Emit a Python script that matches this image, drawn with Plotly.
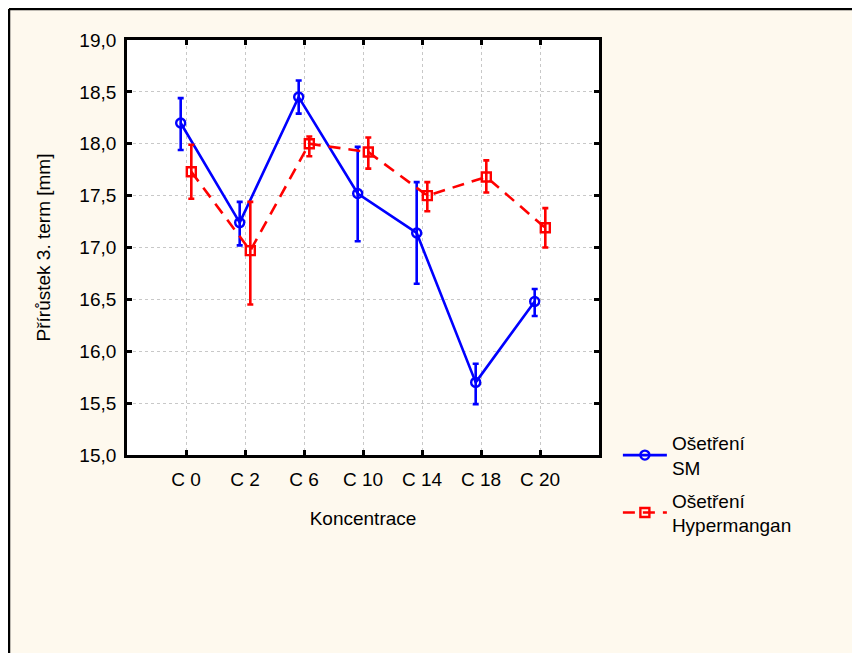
import plotly.graph_objects as go

categories = ["C 0", "C 2", "C 6", "C 10", "C 14", "C 18", "C 20"]
sm_mean = [18.20, 17.24, 18.45, 17.52, 17.14, 15.70, 16.48]
sm_upper = [18.44, 17.44, 18.61, 17.97, 17.63, 15.88, 16.60]
sm_lower = [17.94, 17.02, 18.29, 17.06, 16.65, 15.49, 16.34]
hm_mean = [17.73, 16.97, 18.00, 17.92, 17.50, 17.68, 17.19]
hm_upper = [17.99, 17.44, 18.07, 18.06, 17.63, 17.84, 17.38]
hm_lower = [17.47, 16.45, 17.88, 17.76, 17.35, 17.53, 17.00]

idx = list(range(len(categories)))
off = 0.09
x_sm = [i - off for i in idx]
x_hm = [i + off for i in idx]

fig = go.Figure()
fig.add_trace(go.Scatter(
    x=x_sm, y=sm_mean, mode="lines+markers", name="Ošetření<br>SM",
    legendgroup="sm",
    line=dict(color="#0000FF", width=2.6),
    marker=dict(symbol="circle-open", size=9, color="#0000FF", line=dict(width=2.4)),
    error_y=dict(type="data", symmetric=False,
                 array=[u - m for u, m in zip(sm_upper, sm_mean)],
                 arrayminus=[m - l for m, l in zip(sm_mean, sm_lower)],
                 color="#0000FF", thickness=2.6, width=3),
))
fig.add_trace(go.Scatter(
    x=x_hm, y=hm_mean, mode="lines+markers", name="Ošetření<br>Hypermangan",
    legendgroup="hm",
    line=dict(color="#FF0000", width=2.6, dash="12px,8px"),
    marker=dict(symbol="square-open", size=9, color="#FF0000", line=dict(width=2.4)),
    error_y=dict(type="data", symmetric=False,
                 array=[u - m for u, m in zip(hm_upper, hm_mean)],
                 arrayminus=[m - l for m, l in zip(hm_mean, hm_lower)],
                 color="#FF0000", thickness=2.6, width=3),
))

font = "Liberation Sans, Arial, sans-serif"
L, T, PW, PH = 119, 32, 472, 415
fig.update_layout(
    width=860, height=653,
    margin=dict(l=L, r=860 - L - PW, t=T, b=653 - T - PH),
    paper_bgcolor="#FEF9EE",
    plot_bgcolor="white",
    separators=", ",
    font=dict(family=font, size=19, color="black"),
    showlegend=True,
    legend=dict(x=1.04, y=0.075, xanchor="left", yanchor="top",
                bgcolor="rgba(0,0,0,0)", font=dict(size=19),
                traceorder="grouped", tracegroupgap=5, itemwidth=44),
    shapes=[
        dict(type="line", xref="paper", yref="paper",
             x0=(1 - L) / PW, x1=(1 - L) / PW,
             y0=(T + PH - 700) / PH, y1=(T + PH - 1) / PH,
             line=dict(color="black", width=2.5)),
        dict(type="line", xref="paper", yref="paper",
             x0=(1 - L) / PW, x1=(900 - L) / PW,
             y0=(T + PH - 1) / PH, y1=(T + PH - 1) / PH,
             line=dict(color="black", width=2.5)),
    ],
)
fig.update_xaxes(
    range=[-1, 7], tickmode="array", tickvals=idx, ticktext=categories,
    showline=True, linecolor="black", linewidth=2.8, mirror="ticks",
    ticks="inside", ticklen=5, tickwidth=2.8, tickcolor="black",
    showgrid=True, gridcolor="#C8C8C8", griddash="3px,3px", gridwidth=1,
    zeroline=False,
    title=dict(text="Koncentrace", font=dict(size=19), standoff=23),
    tickfont=dict(size=19), ticklabelstandoff=5,
)
fig.update_yaxes(
    range=[15, 19], tickmode="array", tickvals=[15, 15.5, 16, 16.5, 17, 17.5, 18, 18.5, 19],
    tickformat=".1f",
    showline=True, linecolor="black", linewidth=2.8, mirror="ticks",
    ticks="inside", ticklen=5, tickwidth=2.8, tickcolor="black",
    showgrid=True, gridcolor="#C8C8C8", griddash="3px,3px", gridwidth=1,
    zeroline=False,
    title=dict(text="Přírůstek 3. term [mm]", font=dict(size=19), standoff=24),
    tickfont=dict(size=19), ticklabelstandoff=4,
)

fig.write_html("out.html")
